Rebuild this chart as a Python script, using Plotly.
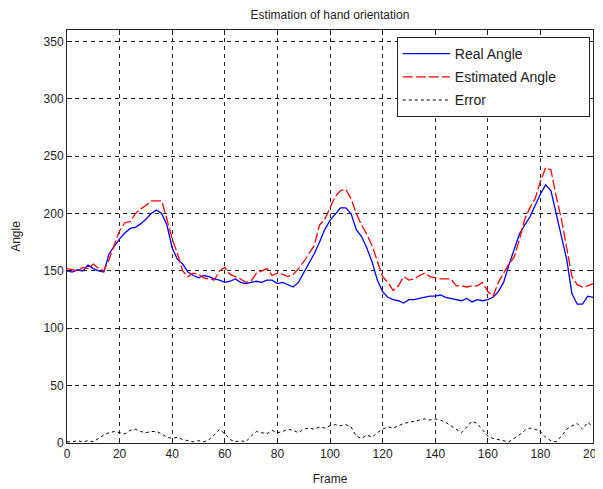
import plotly.graph_objects as go

frames = list(range(0, 201, 2))

real_angle = [150, 149, 151, 150, 155, 152, 150, 149, 165, 172,
              178, 183, 187, 188, 191, 195, 200, 203, 200, 190,
              170, 160, 156, 149, 146, 144, 146, 145, 143, 142,
              140, 141, 143, 140, 139, 140, 141, 140, 142, 142,
              139, 140, 138, 136, 140, 148, 156, 165, 175, 186,
              194, 200, 205, 205, 200, 186, 180, 170, 158, 142,
              132, 127, 125, 124, 122, 125, 125, 126, 127, 128,
              128, 129, 127, 126, 125, 124, 126, 123, 125, 124,
              125, 127, 132, 140, 155, 168, 182, 190, 197, 207,
              217, 225, 220, 200, 180, 160, 130, 121, 121, 128,
              127]

estimated_angle = [152, 151, 150, 153, 152, 156, 152, 150, 160, 173,
                   185, 192, 193, 200, 204, 207, 211, 211, 211, 195,
                   178, 165, 150, 145, 148, 147, 144, 143, 142, 150,
                   153, 147, 145, 143, 140, 141, 148, 150, 152, 146,
                   148, 147, 145, 147, 152, 158, 165, 172, 190, 195,
                   205, 215, 220, 221, 213, 200, 190, 182, 172, 158,
                   145, 140, 133, 137, 145, 142, 143, 146, 148, 145,
                   144, 143, 143, 143, 137, 137, 136, 137, 137, 140,
                   132, 128, 140, 148, 156, 162, 177, 195, 205, 213,
                   228, 240, 238, 215, 195, 170, 145, 138, 136, 137,
                   139]

error = [1, 1, 2, 1, 2, 1, 4, 7, 9, 10,
         9, 8, 11, 12, 10, 9, 10, 10, 8, 5,
         4, 5, 3, 2, 1, 2, 1, 3, 7, 12,
         8, 3, 1, 2, 1, 6, 10, 9, 8, 11,
         9, 10, 12, 11, 9, 12, 13, 12, 14, 13,
         15, 16, 15, 16, 14, 6, 4, 7, 5, 9,
         12, 14, 13, 15, 17, 18, 19, 20, 21, 20,
         21, 20, 18, 15, 12, 9, 14, 19, 17, 11,
         6, 4, 3, 2, 1, 4, 7, 11, 13, 12,
         10, 5, 2, 1, 6, 12, 15, 17, 12, 18,
         14]

series_names = ["Real Angle", "Estimated Angle", "Error"]

x_ticks = list(range(0, 201, 20))
y_ticks = list(range(0, 351, 50))

pad = "\u00a0" * 7

fig = go.Figure()
fig.add_trace(go.Scatter(x=frames, y=real_angle, mode="lines", name=series_names[0] + pad,
                         legendgroup="a",
                         line=dict(color="#0000ff", width=1.3)))
fig.add_trace(go.Scatter(x=frames, y=estimated_angle, mode="lines", name=series_names[1] + pad,
                         legendgroup="b",
                         line=dict(color="#ff0000", width=1.3, dash="10px,3px")))
fig.add_trace(go.Scatter(x=frames, y=error, mode="lines", name=series_names[2] + pad,
                         legendgroup="c",
                         line=dict(color="#000000", width=1, dash="3px,3px")))

font_family = "Liberation Sans, Arial, sans-serif"

W, H = 595, 481
fig.update_layout(
    width=W, height=H,
    margin=dict(l=59, r=10, t=22, b=46),
    paper_bgcolor="white", plot_bgcolor="white",
    font=dict(family=font_family, size=12, color="#222222"),
    title=dict(text="Estimation of hand orientation", x=322 / W, xanchor="center",
               y=1 - 7 / H, yanchor="middle", font=dict(size=12, color="#222222")),
    showlegend=True,
    legend=dict(x=0.994, y=0.983, xanchor="right", yanchor="top",
                bgcolor="white", bordercolor="#222222", borderwidth=1,
                font=dict(size=14, color="#222222"), itemwidth=47,
                traceorder="grouped", tracegroupgap=2),
)
fig.update_xaxes(range=[0, 200.001], tickvals=x_ticks, ticks="inside", ticklen=5,
                 tickcolor="#222222", showline=True, linecolor="#222222", linewidth=1,
                 mirror="ticks", showgrid=True, gridcolor="#222222", griddash="4px,4px",
                 gridwidth=1, zeroline=False, automargin=False, ticklabeloverflow="allow",
                 title=dict(text="Frame", standoff=14, font=dict(size=12)))
fig.update_yaxes(range=[0, 360], tickvals=y_ticks, ticks="inside", ticklen=5,
                 tickcolor="#222222", showline=True, linecolor="#222222", linewidth=1,
                 mirror="ticks", showgrid=True, gridcolor="#222222", griddash="4px,4px",
                 gridwidth=1, zeroline=False, automargin=False, ticklabeloverflow="allow",
                 title=dict(text="Angle", standoff=20, font=dict(size=12)))

fig.write_html("out.html")
